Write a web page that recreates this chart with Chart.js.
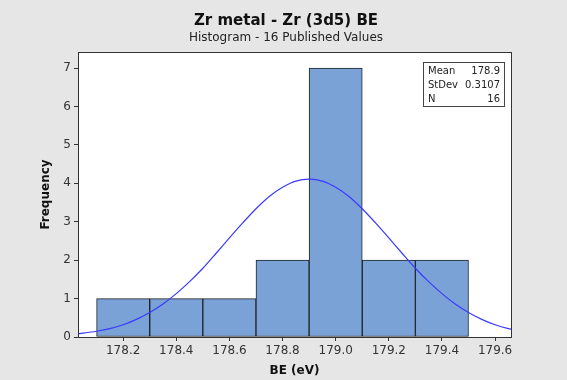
<!DOCTYPE html>
<html>
<head>
<meta charset="utf-8">
<script src="https://cdn.jsdelivr.net/npm/chart.js@4"></script>
<style>
  html, body { margin: 0; padding: 0; background: #e6e6e6; }
  #wrap { width: 567px; height: 380px; }
</style>
</head>
<body>
<div id="wrap"><canvas id="chart" width="567" height="380"></canvas></div>
<script>
// histogram bins (centres, width 0.2 eV) and counts
const binCenters = [178.2, 178.4, 178.6, 178.8, 179.0, 179.2, 179.4];
const frequencies = [1, 1, 1, 2, 7, 2, 2];

// fitted normal curve
const curveX = [178.00, 178.05, 178.10, 178.15, 178.20, 178.25, 178.30, 178.35, 178.40, 178.45,
  178.50, 178.55, 178.60, 178.65, 178.70, 178.75, 178.80, 178.85, 178.90, 178.95,
  179.00, 179.05, 179.10, 179.15, 179.20, 179.25, 179.30, 179.35, 179.40, 179.45,
  179.50, 179.55, 179.60, 179.65, 179.70];
const curveY = [0.06, 0.10, 0.15, 0.22, 0.32, 0.46, 0.64, 0.86, 1.13, 1.44,
  1.79, 2.18, 2.58, 2.97, 3.34, 3.66, 3.90, 4.06, 4.11, 4.06,
  3.90, 3.66, 3.34, 2.97, 2.58, 2.18, 1.79, 1.44, 1.13, 0.86,
  0.64, 0.46, 0.32, 0.22, 0.15];

const xTicks = [178.2, 178.4, 178.6, 178.8, 179.0, 179.2, 179.4, 179.6];
const yTicks = [0, 1, 2, 3, 4, 5, 6, 7];

const statLabels = ["Mean", "StDev", "N"];
const statValues = ["178.9", "0.3107", "16"];

const titleText = "Zr metal - Zr (3d5) BE";
const subtitleText = "Histogram - 16 Published Values";

const FONT = "'DejaVu Sans', Verdana, sans-serif";
const INK = "#333";

const framePlugin = {
  id: "frame",
  beforeDraw(chart) {
    const { ctx, chartArea: a } = chart;
    ctx.save();
    ctx.fillStyle = "#e6e6e6";
    ctx.fillRect(0, 0, chart.width, chart.height);
    ctx.fillStyle = "#fff";
    ctx.fillRect(a.left, a.top, a.right - a.left, a.bottom - a.top);
    // titles
    ctx.fillStyle = "#111";
    ctx.textAlign = "center";
    ctx.textBaseline = "middle";
    ctx.font = "bold 15px " + FONT;
    ctx.fillText(titleText, 286, 21);
    ctx.font = "12px " + FONT;
    ctx.fillStyle = "#222";
    ctx.fillText(subtitleText, 286, 38);
    ctx.restore();
  },
  afterDraw(chart) {
    const { ctx, chartArea: a } = chart;
    ctx.save();
    ctx.strokeStyle = INK;
    ctx.lineWidth = 1;
    ctx.strokeRect(Math.round(a.left) + 0.5, Math.round(a.top) + 0.5,
      Math.round(a.right - a.left), Math.round(a.bottom - a.top));
    // stats box
    const bx = 423, by = 62, bw = 81, bh = 44;
    ctx.fillStyle = "#fff";
    ctx.fillRect(bx, by, bw, bh);
    ctx.strokeStyle = "#444";
    ctx.strokeRect(bx + 0.5, by + 0.5, bw, bh);
    ctx.font = "10px " + FONT;
    ctx.fillStyle = "#222";
    ctx.textBaseline = "middle";
    statLabels.forEach((lab, i) => {
      const y = by + 9 + i * 14;
      ctx.textAlign = "left";
      ctx.fillText(lab, bx + 5, y);
      ctx.textAlign = "right";
      ctx.fillText(statValues[i], bx + bw - 4, y);
    });
    ctx.restore();
  },
};

new Chart(document.getElementById("chart"), {
  type: "bar",
  data: {
    datasets: [
      {
        type: "line",
        data: curveX.map((x, i) => ({ x, y: curveY[i] })),
        borderColor: "#3a3aff",
        borderWidth: 1.2,
        pointRadius: 0,
        tension: 0.3,
        fill: false,
        order: 0,
      },
      {
        type: "bar",
        data: binCenters.map((x, i) => ({ x, y: frequencies[i] })),
        backgroundColor: "#7ba2d7",
        borderColor: "#1e2228",
        borderWidth: 1,
        borderSkipped: false,
        barPercentage: 1,
        categoryPercentage: 1,
        order: 1,
      },
    ],
  },
  options: {
    responsive: false,
    animation: false,
    layout: { padding: { top: 52, right: 56, left: 0, bottom: 0 } },
    plugins: { legend: { display: false }, tooltip: { enabled: false } },
    scales: {
      x: {
        type: "linear",
        min: 178.03,
        max: 179.66,
        offset: false,
        afterFit: (s) => { s.height = 43; },
        afterBuildTicks: (s) => { s.ticks = xTicks.map((v) => ({ value: v })); },
        ticks: {
          callback: (v) => Number(v).toFixed(1),
          font: { family: FONT, size: 12 },
          color: INK,
          padding: 3,
          maxRotation: 0,
        },
        grid: { display: true, drawOnChartArea: false, drawTicks: true, tickLength: 4, color: INK, offset: false },
        border: { display: true, color: INK },
        title: { display: true, text: "BE (eV)", font: { family: FONT, size: 12, weight: "bold" }, color: "#111", padding: { top: 0, bottom: 2 } },
      },
      y: {
        min: 0,
        max: 7.42,
        afterFit: (s) => { s.width = 78; },
        afterBuildTicks: (s) => { s.ticks = yTicks.map((v) => ({ value: v })); },
        ticks: { font: { family: FONT, size: 12 }, color: INK, padding: 3 },
        grid: { display: true, drawOnChartArea: false, drawTicks: true, tickLength: 4, color: INK },
        border: { display: true, color: INK },
        title: { display: true, text: "Frequency", font: { family: FONT, size: 12, weight: "bold" }, color: "#111", padding: { top: 39, bottom: 0 } },
      },
    },
  },
  plugins: [framePlugin],
});
</script>
</body>
</html>
